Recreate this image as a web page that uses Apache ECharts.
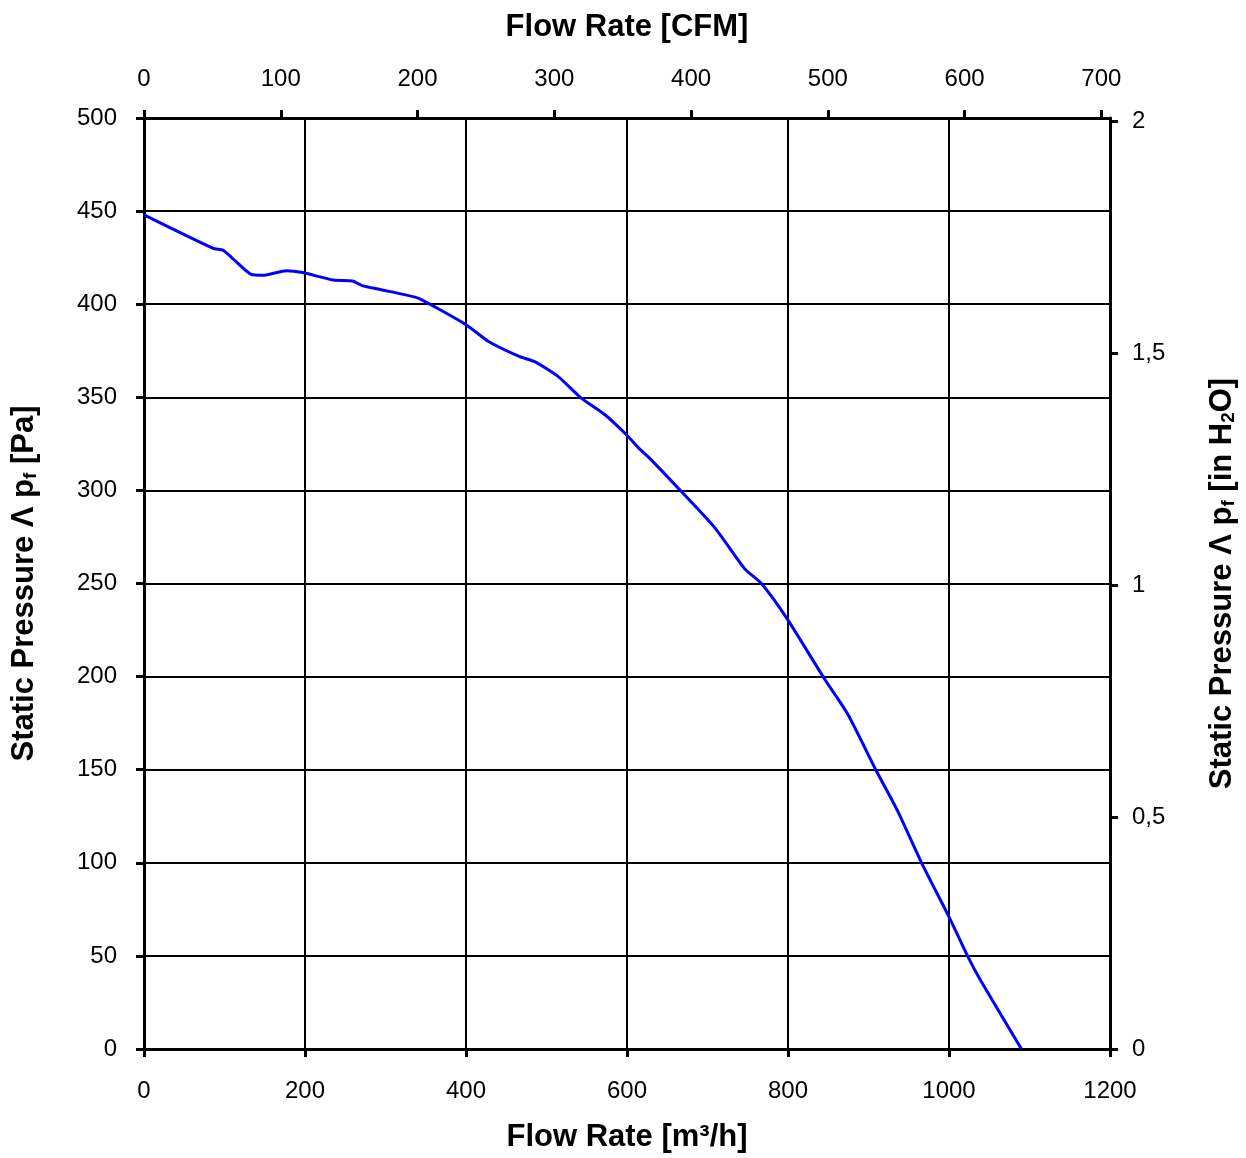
<!DOCTYPE html>
<html>
<head>
<meta charset="utf-8">
<script src="https://cdn.jsdelivr.net/npm/echarts@6/dist/echarts.min.js"></script>
<style>
html,body{margin:0;padding:0;background:#fff;overflow:hidden;}
#c{width:1246px;height:1158px;}
</style>
</head>
<body>
<div id="c"></div>
<script>
// Flow rate [m³/h]
var flowM3h = [0, 86, 98, 109, 133, 148, 177, 197, 235, 259, 271, 292, 325, 342, 400, 428, 466, 486, 515, 542, 573, 599, 614, 631, 664, 709, 746, 767, 799, 845, 874, 909, 936, 967, 1000, 1023, 1039, 1090];
// Static pressure [Pa]
var pressurePa = [448, 430, 429, 425, 416, 415.5, 418, 417, 413, 412.5, 410, 408, 405, 403, 389, 380, 372, 369, 361, 350, 340.5, 330, 323, 316, 301, 280, 258, 250, 231, 199, 180, 150, 128, 99, 71, 50, 37, 0];

var xTicksM3h = [0, 200, 400, 600, 800, 1000, 1200];
var xTicksCFM = [0, 100, 200, 300, 400, 500, 600, 700];
var yTicksPa = [0, 50, 100, 150, 200, 250, 300, 350, 400, 450, 500];
var yTicksInH2O = ['0', '0,5', '1', '1,5', '2'];

var M3H_TO_CFM = 0.588578;
var PA_TO_INH2O = 1 / 249.089;

var data = flowM3h.map(function (x, i) { return [x, pressurePa[i]]; });

var font = '"Liberation Sans", Arial, sans-serif';
var tickFont = 24;
var axisLine = { show: true, onZero: false, lineStyle: { color: '#000', width: 3 } };
var axisTick = { show: true, inside: false, length: 8, lineStyle: { color: '#000', width: 3 } };
var nameStyle = { fontFamily: font, fontWeight: 'bold', fontSize: 31, color: '#000',
  rich: { sub: { fontFamily: font, fontWeight: 'bold', fontSize: 19, color: '#000', verticalAlign: 'bottom', padding: [12, 0, 0, 0] } } };

var chart = echarts.init(document.getElementById('c'), null, { renderer: 'canvas', width: 1246, height: 1158 });
chart.setOption({
  animation: false,
  backgroundColor: '#fff',
  grid: { left: 144, right: 133, top: 118, bottom: 106, containLabel: false },
  xAxis: [{
    type: 'value', position: 'bottom', min: 0, max: 1200, interval: 200,
    name: 'Flow Rate [m³/h]', nameLocation: 'middle', nameGap: 73, nameTextStyle: nameStyle,
    axisLine: axisLine, axisTick: axisTick,
    axisLabel: { margin: 30, fontFamily: font, fontSize: tickFont, color: '#000',
      formatter: function (v) { return xTicksM3h.indexOf(v) >= 0 ? String(v) : ''; } },
    splitLine: { show: true, lineStyle: { color: '#000', width: 2 } }
  }, {
    type: 'value', position: 'top', min: 0, max: 1200 * M3H_TO_CFM, interval: 100,
    name: 'Flow Rate [CFM]', nameLocation: 'middle', nameGap: 75, nameTextStyle: nameStyle,
    axisLine: axisLine, axisTick: axisTick,
    axisLabel: { margin: 27, fontFamily: font, fontSize: tickFont, color: '#000', showMaxLabel: false,
      formatter: function (v) { return xTicksCFM.indexOf(Math.round(v * 1000) / 1000) >= 0 ? String(v) : ''; } },
    splitLine: { show: false }
  }],
  yAxis: [{
    type: 'value', position: 'left', min: 0, max: 500, interval: 50,
    name: 'Static Pressure Λ p{sub|f} [Pa]', nameLocation: 'middle', nameGap: 104, nameRotate: 90, nameTextStyle: nameStyle,
    axisLine: axisLine, axisTick: axisTick,
    axisLabel: { margin: 27, fontFamily: font, fontSize: tickFont, color: '#000',
      formatter: function (v) { return yTicksPa.indexOf(v) >= 0 ? String(v) : ''; } },
    splitLine: { show: true, lineStyle: { color: '#000', width: 2 } }
  }, {
    type: 'value', position: 'right', min: 0, max: 500 * PA_TO_INH2O, interval: 0.5,
    name: 'Static Pressure Λ p{sub|f} [in H{sub|2}O]', nameLocation: 'middle', nameGap: 97, nameRotate: 90, nameTextStyle: nameStyle,
    axisLine: axisLine, axisTick: axisTick,
    axisLabel: { margin: 22, fontFamily: font, fontSize: tickFont, color: '#000', showMaxLabel: false,
      formatter: function (v) {
        var s = String(Math.round(v * 1000) / 1000).replace('.', ',');
        return yTicksInH2O.indexOf(s) >= 0 ? s : '';
      } },
    splitLine: { show: false }
  }],
  series: [{
    type: 'line', xAxisIndex: 0, yAxisIndex: 0, data: data,
    showSymbol: false, symbol: 'none', smooth: 0.2,
    lineStyle: { color: '#0000FF', width: 3 }
  }]
});
</script>
</body>
</html>
